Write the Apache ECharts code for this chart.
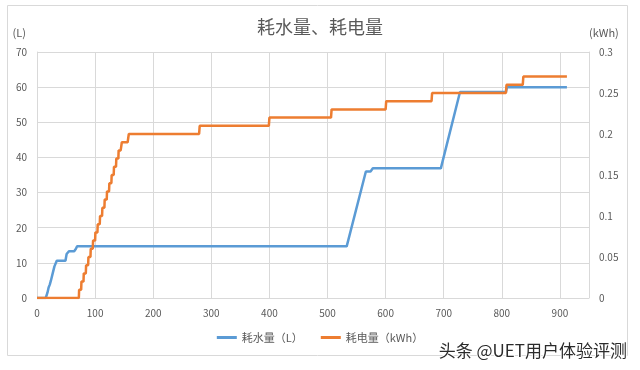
<!DOCTYPE html>
<html>
<head>
<meta charset="utf-8">
<script src="https://cdn.jsdelivr.net/npm/echarts@6/dist/echarts.min.js"></script>
<style>
  html, body { margin: 0; padding: 0; background: #fff; }
  #chart { width: 640px; height: 370px; }
</style>
</head>
<body>
<div id="chart"></div>
<script>
  // water use (L) over time, [x, litres]
  const waterPoints = [
    [0, 0], [15, 0], [18, 1.5], [20, 3], [22, 3.8], [24, 5], [27, 7], [30, 9], [34, 10.6],
    [49, 10.6], [51, 12.5], [55, 13.3], [64, 13.3], [67, 14], [69, 14.7],
    [533, 14.7], [566, 36.0], [574, 36.0], [578, 36.9], [695, 36.9],
    [728, 58.6], [807, 58.6], [809, 60.0], [912, 60.0]
  ];

  // power use (kWh) over time, [x, kWh]
  const powerPoints = [
    [0, 0], [72, 0], [72.5, 0.01], [76, 0.01], [76.5, 0.02], [80, 0.02], [80.5, 0.03], [84, 0.03],
    [84.5, 0.04], [88, 0.04], [88.5, 0.05], [92, 0.05], [92.5, 0.06], [96, 0.06], [96.5, 0.07],
    [100, 0.07], [100.5, 0.08], [104, 0.08], [104.5, 0.09], [108, 0.09], [108.5, 0.10], [112, 0.10],
    [112.5, 0.11], [116, 0.11], [116.5, 0.12], [120, 0.12], [120.5, 0.13], [124, 0.13], [124.5, 0.14],
    [128, 0.14], [128.5, 0.15], [132, 0.15], [132.5, 0.16], [136, 0.16], [136.5, 0.17], [140, 0.17],
    [140.5, 0.18], [144, 0.18], [146, 0.19], [156, 0.19], [158, 0.20], [279, 0.20], [280, 0.21],
    [399, 0.21], [400, 0.22], [506, 0.22], [507, 0.23], [600, 0.23], [601, 0.24], [679, 0.24],
    [680, 0.25], [807, 0.25], [808, 0.26], [836, 0.26], [837, 0.27], [912, 0.27]
  ];

  const seriesNames = ['耗水量（L）', '耗电量（kWh）'];
  const font = '"Noto Sans CJK SC", "Noto Sans", sans-serif';
  const labelColor = '#595959';
  const gridColor = '#d9d9d9';

  const chart = echarts.init(document.getElementById('chart'));
  chart.setOption({
    animation: false,
    color: ['#5b9bd5', '#ed7d31'],
    textStyle: { fontFamily: font },
    title: {
      text: '耗水量、耗电量',
      left: 'center',
      top: 13,
      textStyle: { fontSize: 18, fontWeight: 'normal', color: labelColor, fontFamily: font }
    },
    legend: {
      bottom: 22,
      left: 'center',
      itemGap: 18,
      itemWidth: 20,
      itemHeight: 3,
      icon: 'rect',
      textStyle: { fontSize: 11, color: labelColor, fontFamily: font },
      data: seriesNames
    },
    grid: { left: 37, right: 51, top: 52, bottom: 72 },
    xAxis: {
      type: 'value',
      min: 0,
      max: 950,
      interval: 100,
      axisLine: { show: false },
      axisTick: { show: false },
      axisLabel: {
        color: labelColor,
        fontSize: 10,
        margin: 10,
        formatter: v => (v % 100 === 0 ? String(v) : '')
      },
      splitLine: { show: true, lineStyle: { color: gridColor } }
    },
    yAxis: [
      {
        type: 'value',
        name: '(L)',
        nameLocation: 'end',
        nameGap: 14,
        nameTextStyle: { color: labelColor, fontSize: 11, align: 'right', padding: [0, 11, 0, 0] },
        min: 0,
        max: 70,
        interval: 10,
        axisLine: { show: true, lineStyle: { color: gridColor } },
        axisTick: { show: false },
        axisLabel: { color: labelColor, fontSize: 10, margin: 10 },
        splitLine: { lineStyle: { color: gridColor } }
      },
      {
        type: 'value',
        name: '(kWh)',
        nameLocation: 'end',
        nameGap: 14,
        nameTextStyle: { color: labelColor, fontSize: 11, align: 'left' },
        min: 0,
        max: 0.3,
        interval: 0.05,
        axisLine: { show: true, lineStyle: { color: gridColor } },
        axisTick: { show: false },
        axisLabel: { color: labelColor, fontSize: 10, margin: 10 },
        splitLine: { show: false }
      }
    ],
    graphic: [
      {
        type: 'rect',
        shape: { x: 7.5, y: 5.5, width: 620, height: 350 },
        style: { fill: null, stroke: gridColor, lineWidth: 1 },
        silent: true
      },
      {
        type: 'text',
        right: 12,
        top: 341,
        z: 100,
        style: {
          text: '头条 @UET用户体验评测',
          fontSize: 17,
          fill: '#2b2b2b',
          fontFamily: font,
          stroke: '#ffffff',
          lineWidth: 2
        }
      }
    ],
    series: [
      {
        name: seriesNames[0],
        type: 'line',
        yAxisIndex: 0,
        data: waterPoints,
        showSymbol: false,
        lineStyle: { width: 2.5 }
      },
      {
        name: seriesNames[1],
        type: 'line',
        yAxisIndex: 1,
        data: powerPoints,
        showSymbol: false,
        lineStyle: { width: 2.5 }
      }
    ]
  });
</script>
</body>
</html>
